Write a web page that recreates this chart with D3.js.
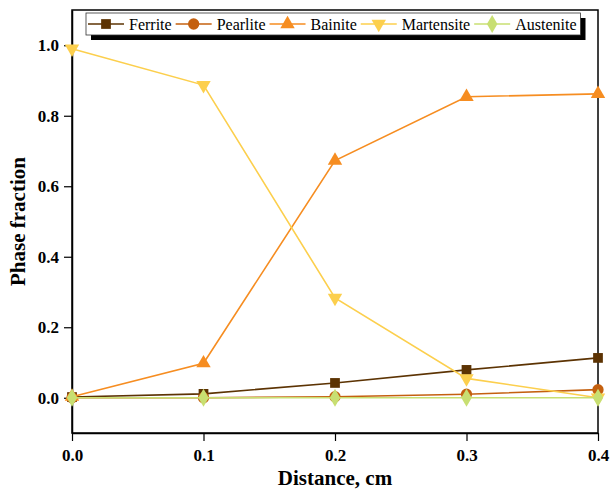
<!DOCTYPE html>
<html>
<head>
<meta charset="utf-8">
<script src="https://cdn.jsdelivr.net/npm/d3@7"></script>
<style>
  body { margin: 0; background: #fff; }
  text { font-family: "Liberation Serif", "Times New Roman", serif; }
</style>
</head>
<body>
<div id="chart-area"></div>
<script>
const distance = [0.0, 0.1, 0.2, 0.3, 0.4];
const ferrite = [0.002, 0.011, 0.042, 0.079, 0.113];
const pearlite = [0.0, 0.0, 0.003, 0.01, 0.023];
const bainite = [0.003, 0.098, 0.673, 0.854, 0.862];
const martensite = [0.99, 0.887, 0.283, 0.055, 0.0];
const austenite = [0.0, 0.0, 0.0, 0.0, 0.0];
const xTicks = [0.0, 0.1, 0.2, 0.3, 0.4];
const yTicks = [0.0, 0.2, 0.4, 0.6, 0.8, 1.0];

const series = [
    { name: "Ferrite", values: ferrite, color: "#5c3303", symbol: d3.symbolSquare, size: 95, rot: 0 },
    { name: "Pearlite", values: pearlite, color: "#c4600f", symbol: d3.symbolCircle, size: 100, rot: 0 },
    { name: "Bainite", values: bainite, color: "#f68d21", symbol: d3.symbolTriangle, size: 90, rot: 0 },
    { name: "Martensite", values: martensite, color: "#fccf4d", symbol: d3.symbolTriangle, size: 90, rot: 180 },
    { name: "Austenite", values: austenite, color: "#c8df72", symbol: d3.symbolDiamond, size: 95, rot: 0 }
];

const MARGINS = { top: 10, right: 12, left: 72, bottom: 57 };
const WIDTH = 610, HEIGHT = 490;
const CHART_WIDTH = WIDTH - MARGINS.left - MARGINS.right;
const CHART_HEIGHT = HEIGHT - MARGINS.top - MARGINS.bottom;

const svg = d3.select('#chart-area')
    .append('svg')
    .attr('width', WIDTH)
    .attr('height', HEIGHT);

const g = svg.append('g')
    .attr('transform', `translate(${MARGINS.left}, ${MARGINS.top})`);

const xScale = d3.scaleLinear().domain([0, 0.4]).range([0, CHART_WIDTH]);
const yScale = d3.scaleLinear().domain([-0.1, 1.1]).range([CHART_HEIGHT, 0]);

// minor ticks
const xMinor = d3.range(0, 24 + 1).map(i => i * 0.4 / 24);
const yMinor = d3.range(-0.1, 1.1, 0.1).map(v => +v.toFixed(2));

const xAxisGroup = g.append('g')
    .attr('transform', `translate(0, ${CHART_HEIGHT})`);
xAxisGroup.call(d3.axisBottom(xScale).tickValues(xMinor).tickSize(4).tickFormat(''));
xAxisGroup.call(d3.axisBottom(xScale).tickValues(xTicks).tickSize(8).tickSizeOuter(0)
    .tickFormat(d3.format('.1f')));

const yAxisGroup = g.append('g');
yAxisGroup.call(d3.axisLeft(yScale).tickValues(yMinor).tickSize(4).tickFormat(''));
yAxisGroup.call(d3.axisLeft(yScale).tickValues(yTicks).tickSize(8).tickSizeOuter(0)
    .tickFormat(d3.format('.1f')));

xAxisGroup.selectAll('text')
    .attr('font-size', '17px').attr('font-weight', 'bold')
    .attr('fill', '#000').attr('y', 16);
yAxisGroup.selectAll('text')
    .attr('font-size', '17px').attr('font-weight', 'bold')
    .attr('fill', '#000').attr('x', -13);
g.selectAll('.domain').attr('stroke', '#000').attr('stroke-width', 1.5);
g.selectAll('.tick line').attr('stroke', '#000').attr('stroke-width', 1.2);

// frame
g.append('rect')
    .attr('x', 0).attr('y', 0)
    .attr('width', CHART_WIDTH).attr('height', CHART_HEIGHT)
    .attr('fill', 'none').attr('stroke', '#000').attr('stroke-width', 1.5);

// X label
g.append('text')
    .attr('x', CHART_WIDTH / 2)
    .attr('y', CHART_HEIGHT + 52)
    .attr('font-size', '21px')
    .attr('font-weight', 'bold')
    .attr('text-anchor', 'middle')
    .text('Distance, cm');

// Y label
g.append('text')
    .attr('x', -yScale(0.5))
    .attr('y', -47)
    .attr('font-size', '21px')
    .attr('font-weight', 'bold')
    .attr('text-anchor', 'middle')
    .attr('transform', 'rotate(-90)')
    .text('Phase fraction');

const line = d3.line()
    .x((d, i) => xScale(distance[i]))
    .y(d => yScale(d));

series.forEach(s => {
    g.append('path')
        .datum(s.values)
        .attr('fill', 'none')
        .attr('stroke', s.color)
        .attr('stroke-width', 1.6)
        .attr('d', line);
    g.selectAll(null)
        .data(s.values)
        .enter()
        .append('path')
        .attr('d', d3.symbol().type(s.symbol).size(s.size))
        .attr('fill', s.color)
        .attr('transform', (d, i) => `translate(${xScale(distance[i])}, ${yScale(d)}) rotate(${s.rot})`);
});

// legend
const legend = svg.append('g').attr('transform', 'translate(86, 13)');
const legendShadow = legend.append('rect');
const legendBox = legend.append('rect');
let lx = 2;
series.forEach(s => {
    const item = legend.append('g').attr('transform', `translate(${lx}, 11)`);
    item.append('line')
        .attr('x1', 0).attr('x2', 36)
        .attr('stroke', s.color).attr('stroke-width', 1.6);
    item.append('path')
        .attr('d', d3.symbol().type(s.symbol).size(s.size))
        .attr('fill', s.color)
        .attr('transform', `translate(18, 0) rotate(${s.rot})`);
    const t = item.append('text')
        .attr('x', 41)
        .attr('y', 5.5)
        .attr('font-size', '16px')
        .text(s.name);
    lx += 41 + t.node().getComputedTextLength() + 4;
});
legendShadow
    .attr('x', 5).attr('y', 5)
    .attr('width', lx).attr('height', 22)
    .attr('fill', '#000');
legendBox
    .attr('x', 0).attr('y', 0)
    .attr('width', lx).attr('height', 22)
    .attr('fill', '#fff').attr('stroke', '#333').attr('stroke-width', 0.8);
</script>
</body>
</html>
